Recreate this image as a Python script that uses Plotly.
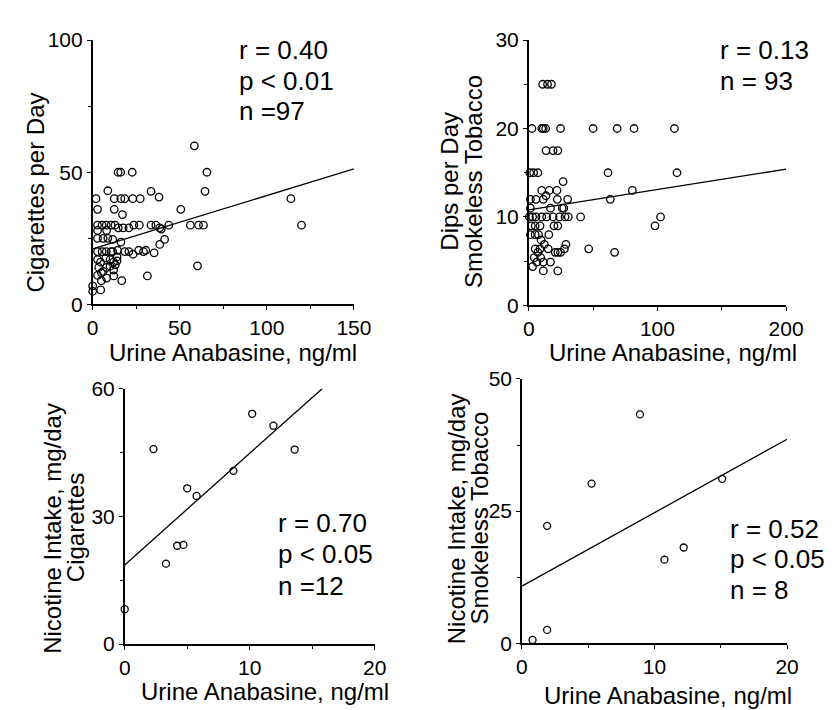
import plotly.graph_objects as go

W, H = 834, 710
FONT = "Liberation Sans, Arial, Helvetica, sans-serif"

# ---------------- Data ----------------
# Panel A: cigarette smokers
cig_anabasine = [1.9, 8.7, 2.8, 2.8, 5.4, 7.8, 10.6, 2.8, 8.0, 2.8, 6.0, 8.7, 2.8, 5.4, 7.8, 10.6,
                 2.8, 4.5, 7.5, 10.0, 3.5, 6.0, 8.0, 10.0, 2.8, 5.0, 5.0, 8.0, 0.0, 0.0, 4.6,
                 58.4, 14.6, 16.1, 22.7, 65.6, 64.5, 33.5, 38.1, 12.4, 16.2, 18.4, 23.0, 27.3,
                 113.8, 12.4, 50.6, 17.1, 12.8, 14.7, 17.5, 20.8, 23.6, 26.8, 33.5, 36.3, 38.5,
                 39.4, 43.7, 56.1, 60.8, 63.6, 119.9, 11.5, 16.2, 41.3, 38.5, 11.5, 14.3, 18.4,
                 20.8, 23.2, 26.4, 29.2, 30.5, 35.3, 14.0, 14.0, 12.0, 13.0, 12.0, 60.2, 12.1,
                 31.4, 16.7]
cig_per_day = [40, 43, 36, 30, 30, 30, 30, 28, 28, 25, 25, 25, 20, 20, 20, 20,
               17, 16, 17.5, 17, 14, 12.5, 14, 14.5, 11, 12, 9, 10, 7, 5, 5.5,
               60, 50, 50, 50, 50, 42.8, 42.8, 40.6, 40, 40, 40, 40, 40,
               40, 36, 36, 34, 30, 29, 29, 29, 30, 30, 30, 30, 29,
               28.5, 30, 30, 30, 30, 30, 24.6, 23.6, 24.6, 22.7, 20, 20.5, 20,
               20, 19, 20.5, 20, 20.5, 19.5, 18, 16.5, 16, 15, 13, 14.6, 10.8,
               10.8, 9]
cig_fit_x = [0, 150]
cig_fit_y = [21.0, 51.3]

# Panel B: smokeless tobacco users
st_anabasine = [10.8, 14.6, 17.6,
                2.5, 10.1, 11.3, 13.1, 24.7, 50.0, 68.7, 81.8, 113.2,
                13.4, 18.9, 22.6,
                0.8, 3.8, 7.1, 61.6, 115.2,
                26.7,
                10.1, 15.9, 21.9, 80.5, 13.4,
                1.3, 5.6, 11.3, 22.2, 30.2, 63.4,
                1.3, 16.9, 26.0, 27.2,
                0.5, 3.0, 5.6, 10.1, 13.9, 18.9, 23.9, 28.2, 30.7, 40.3, 102.4,
                2.0, 5.0, 8.8, 19.6, 22.6, 98.1,
                1.3, 5.0, 7.6, 15.6,
                9.6, 12.1, 28.9,
                5.0, 8.8, 15.1, 27.7, 46.6,
                7.1, 20.6, 22.6, 24.7, 66.7,
                4.3, 9.3,
                6.3, 11.3, 16.9,
                3.0,
                11.3, 22.6,
                201.0]
st_dips_per_day = [25, 25, 25,
                   20, 20, 20, 20, 20, 20, 20, 20, 20,
                   17.5, 17.5, 17.5,
                   15, 15, 15, 15, 15,
                   14,
                   13, 13, 13, 13, 12.4,
                   12, 12, 12, 12, 12, 12,
                   11, 11, 11, 11,
                   10, 10, 10, 10, 10, 10, 10, 10, 10, 10, 10,
                   9, 9, 9, 9, 9, 9,
                   8, 8, 8, 8,
                   7.4, 6.9, 6.9,
                   6.4, 6.4, 6.4, 6.4, 6.4,
                   6, 6, 6, 6, 6,
                   5.4, 5.4,
                   4.9, 4.9, 4.9,
                   4.4,
                   3.9, 3.9,
                   6.5]
st_fit_x = [0, 200]
st_fit_y = [10.8, 15.4]

# Panel C: nicotine intake, cigarettes
nic_cig_anabasine = [0.0, 2.3, 3.3, 4.2, 4.7, 5.0, 5.75, 8.7, 10.2, 11.9, 13.6]
nic_cig_intake = [8.2, 45.8, 18.9, 23.1, 23.3, 36.6, 34.8, 40.7, 54.1, 51.3, 45.7]
nic_cig_fit_x = [0, 15.8]
nic_cig_fit_y = [18.6, 60.0]

# Panel D: nicotine intake, smokeless tobacco
nic_st_anabasine = [0.8, 1.9, 1.9, 5.25, 8.9, 10.75, 12.2, 15.1]
nic_st_intake = [0.6, 2.5, 22.2, 30.2, 43.3, 15.8, 18.1, 31.1]
nic_st_fit_x = [0, 20]
nic_st_fit_y = [10.8, 38.6]

x_title = "Urine Anabasine, ng/ml"

# ---------------- Figure ----------------
fig = go.Figure()

panels = [
    dict(x=cig_anabasine, y=cig_per_day, fx=cig_fit_x, fy=cig_fit_y,
         xpx=(81, 350), ypx=(20.7, 294), xr=(0, 150), yr=(0, 100),
         xdt=50, xm=25, ydt=50, ym=25, msize=7.5),
    dict(x=st_anabasine, y=st_dips_per_day, fx=st_fit_x, fy=st_fit_y,
         xpx=(530, 795), ypx=(20.7, 295), xr=(0, 200), yr=(0, 30),
         xdt=100, xm=50, ydt=10, ym=5, msize=7.5),
    dict(x=nic_cig_anabasine, y=nic_cig_intake, fx=nic_cig_fit_x, fy=nic_cig_fit_y,
         xpx=(114, 371.3), ypx=(381, 645), xr=(0, 20), yr=(0, 60),
         xdt=10, xm=5, ydt=30, ym=15, msize=7),
    dict(x=nic_st_anabasine, y=nic_st_intake, fx=nic_st_fit_x, fy=nic_st_fit_y,
         xpx=(523, 796), ypx=(371, 644), xr=(0, 20), yr=(0, 50),
         xdt=10, xm=5, ydt=25, ym=12.5, msize=7),
]

layout_axes = {}
for i, p in enumerate(panels, start=1):
    sfx = "" if i == 1 else str(i)
    xa, ya = "x" + sfx, "y" + sfx
    fig.add_trace(go.Scatter(x=p["fx"], y=p["fy"], mode="lines",
                             line=dict(color="black", width=1.3),
                             xaxis=xa, yaxis=ya, showlegend=False, cliponaxis=False))
    fig.add_trace(go.Scatter(x=p["x"], y=p["y"], mode="markers",
                             marker=dict(symbol="circle-open", size=p["msize"], color="black",
                                         line=dict(width=1.3)),
                             xaxis=xa, yaxis=ya, showlegend=False, cliponaxis=False))
    common = dict(showline=True, linecolor="black", linewidth=1.5, showgrid=False,
                  zeroline=False, ticks="outside", ticklen=4, tickwidth=1.2,
                  tickcolor="black", tickfont=dict(family=FONT, size=21, color="black"))
    layout_axes["xaxis" + sfx] = dict(
        domain=[p["xpx"][0] / W, p["xpx"][1] / W], range=list(p["xr"]),
        anchor=ya, tick0=0, dtick=p["xdt"],
        minor=dict(dtick=p["xm"], ticks="outside", ticklen=3, tickcolor="black"),
        **common)
    layout_axes["yaxis" + sfx] = dict(
        domain=[1 - p["ypx"][1] / H, 1 - p["ypx"][0] / H], range=list(p["yr"]),
        anchor=xa, tick0=0, dtick=p["ydt"],
        minor=dict(dtick=p["ym"], ticks="outside", ticklen=3, tickcolor="black"),
        **common)

fig.update_layout(**layout_axes)

TF = dict(family=FONT, size=24, color="black")
SF = dict(family=FONT, size=26, color="black")
ann = []

def text(xp, yp, t, font, angle=0, xanchor="center"):
    ann.append(dict(x=xp / W, y=1 - yp / H, xref="paper", yref="paper", text=t,
                    showarrow=False, font=font, textangle=angle,
                    xanchor=xanchor, yanchor="middle"))

# x-axis titles
text(226, 344, x_title, TF)
text(679, 344, x_title, TF)
text(258, 694, x_title, TF)
text(673, 698, x_title, TF)

# y-axis titles
text(22, 178, "Cigarettes per Day", TF, -90)
text(449, 167, "Dips per Day", TF, -90)
text(473, 167, "Smokeless Tobacco", TF, -90)
text(40, 525, "Nicotine Intake, mg/day", TF, -90)
text(64, 525, "Cigarettes", TF, -90)
text(455, 515, "Nicotine Intake, mg/day", TF, -90)
text(479, 515, "Smokeless Tobacco", TF, -90)

# statistics
for (xl, ys, lines) in [
    (230, (31, 63, 94), ["r = 0.40", "p &lt; 0.01", "n =97"]),
    (725, (31, 63), ["r = 0.13", "n = 93"]),
    (270, (520, 552, 585), ["r = 0.70", "p &lt; 0.05", "n =12"]),
    (735, (526, 557, 589), ["r = 0.52", "p &lt; 0.05", "n = 8"]),
]:
    for yy, t in zip(ys, lines):
        text(xl, yy, t, SF, xanchor="left")

fig.update_layout(annotations=ann, width=W, height=H,
                  margin=dict(l=0, r=0, t=0, b=0),
                  paper_bgcolor="white", plot_bgcolor="white",
                  font=dict(family=FONT, color="black"))

fig.write_html("out.html")
